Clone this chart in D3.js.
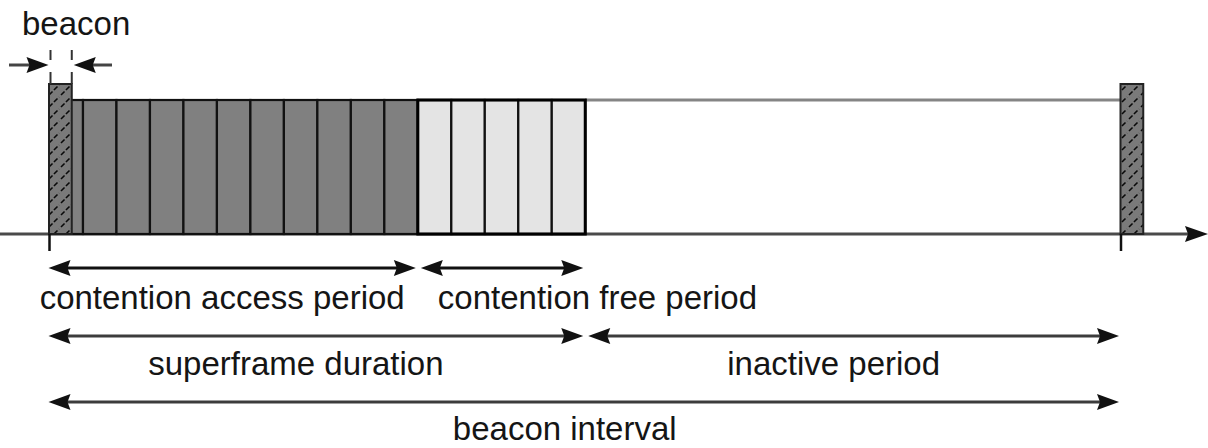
<!DOCTYPE html>
<html>
<head>
<meta charset="utf-8">
<script src="https://cdn.jsdelivr.net/npm/d3@7"></script>
<style>
  body { margin: 0; background: #fff; }
  svg { display: block; }
  text { font-family: "Liberation Sans", Arial, sans-serif; font-size: 33px; fill: #151515; }
</style>
</head>
<body>
<script>
// superframe layout, in slot units
var superframeSlots = 16;
var capSlots = 11;
var cfpSlots = 5;
var beaconIntervalSlots = 32;
var beaconSlots = 0.68;

// the periods marked with arrows under the axis
var periodNames = ["contention access period", "contention free period", "superframe duration", "inactive period", "beacon interval"];
var periodStart = [0, 11, 0, 16, 0];
var periodEnd = [11, 16, 16, 32, 32];
var periodRow = [0, 0, 1, 1, 2];

var beaconLabel = "beacon";

_main = function () {
  var W = 1208, H = 448;
  var svg = d3.select("body").append("svg")
              .attr("width", W)
              .attr("height", H);

  var x = d3.scaleLinear().domain([0, beaconIntervalSlots]).range([49.5, 1121]);
  var y = d3.scaleLinear().domain([0, 1]).range([234, 100]);   // slot height
  var yBeaconTop = 84;

  var rowY = [268, 336, 402];
  var rowText = [309, 375, 440];

  // hatch for beacons
  var defs = svg.append("defs");
  var pat = defs.append("pattern")
                .attr("id", "hatch")
                .attr("patternUnits", "userSpaceOnUse")
                .attr("width", 12).attr("height", 12);
  pat.append("rect").attr("width", 12).attr("height", 12).attr("fill", "#7a7a7a");
  pat.append("path")
     .attr("d", "M1,11 L11,1")
     .attr("stroke", "#0a0a0a").attr("stroke-width", 1.6)
     .attr("stroke-dasharray", "5,2");

  var g = svg.append("g");

  // inactive period top line
  g.append("line")
   .attr("x1", x(superframeSlots)).attr("x2", x(beaconIntervalSlots))
   .attr("y1", y(1)).attr("y2", y(1))
   .attr("stroke", "#858585").attr("stroke-width", 3);

  // axis
  g.append("line")
   .attr("x1", 0).attr("x2", 1190)
   .attr("y1", y(0)).attr("y2", y(0))
   .attr("stroke", "#4a4a4a").attr("stroke-width", 3);
  g.append("path")
   .attr("d", "M1208," + y(0) + " L1185," + (y(0) - 8) + " L1188," + y(0) + " L1185," + (y(0) + 8) + " Z")
   .attr("fill", "#111");

  // slots
  var slots = d3.range(superframeSlots);
  g.selectAll("rect.slot")
   .data(slots)
   .enter().append("rect")
   .attr("class", "slot")
   .attr("x", function (d) { return x(d); })
   .attr("width", function (d) { return x(d + 1) - x(d); })
   .attr("y", y(1))
   .attr("height", y(0) - y(1))
   .attr("fill", function (d) { return d < capSlots ? "#808080" : "#e4e4e4"; })
   .attr("stroke", "#111")
   .attr("stroke-width", 2.2);

  // outer border of CFP
  g.append("rect")
   .attr("x", x(capSlots)).attr("y", y(1))
   .attr("width", x(capSlots + cfpSlots) - x(capSlots))
   .attr("height", y(0) - y(1))
   .attr("fill", "none").attr("stroke", "#000").attr("stroke-width", 3);

  // beacons
  var beacons = [0, beaconIntervalSlots];
  g.selectAll("rect.beacon")
   .data(beacons)
   .enter().append("rect")
   .attr("class", "beacon")
   .attr("x", function (d) { return x(d) - 0.5; })
   .attr("width", x(beaconSlots) - x(0))
   .attr("y", yBeaconTop)
   .attr("height", y(0) - yBeaconTop)
   .attr("fill", "url(#hatch)")
   .attr("stroke", "#222")
   .attr("stroke-width", 2);

  // ticks under the axis at beacon starts
  g.selectAll("line.tick")
   .data(beacons)
   .enter().append("line")
   .attr("class", "tick")
   .attr("x1", function (d) { return x(d); })
   .attr("x2", function (d) { return x(d); })
   .attr("y1", y(0)).attr("y2", y(0) + 17)
   .attr("stroke", "#111").attr("stroke-width", 2.5);

  // arrow helper
  function arrowHead(sel, tip, yy, dir, color) {
    var L = 22, h = 8;
    sel.append("path")
       .attr("d", "M" + tip + "," + yy +
                  " L" + (tip - dir * L) + "," + (yy - h) +
                  " L" + (tip - dir * (L - 3)) + "," + yy +
                  " L" + (tip - dir * L) + "," + (yy + h) + " Z")
       .attr("fill", color);
  }

  // beacon width marker
  var bx0 = x(0) + 1, bx1 = x(beaconSlots) - 0.5, by = 65;
  [bx0, bx1].forEach(function (bx) {
    g.append("line").attr("x1", bx).attr("x2", bx).attr("y1", 50).attr("y2", 60)
     .attr("stroke", "#333").attr("stroke-width", 2);
    g.append("line").attr("x1", bx).attr("x2", bx).attr("y1", 72).attr("y2", yBeaconTop)
     .attr("stroke", "#333").attr("stroke-width", 2);
  });
  g.append("line").attr("x1", 9).attr("x2", bx0 - 10).attr("y1", by).attr("y2", by)
   .attr("stroke", "#444").attr("stroke-width", 3);
  arrowHead(g, bx0 - 2, by, 1, "#111");
  g.append("line").attr("x1", bx1 + 10).attr("x2", 112).attr("y1", by).attr("y2", by)
   .attr("stroke", "#444").attr("stroke-width", 3);
  arrowHead(g, bx1 + 2, by, -1, "#111");

  g.append("text")
   .attr("x", 22).attr("y", 35)
   .text(beaconLabel);

  // period arrows and labels
  var labelDx = [-10, 17, -20, -20, -19];
  var rowColor = ["#111", "#3c3c3c", "#3c3c3c"];
  periodNames.forEach(function (name, i) {
    var r = periodRow[i];
    var x1 = x(periodStart[i]) + (periodStart[i] === 0 ? -1 : 3);
    var x2 = x(periodEnd[i]) - 2;
    var yy = rowY[r];
    g.append("line")
     .attr("x1", x1 + 10).attr("x2", x2 - 10)
     .attr("y1", yy).attr("y2", yy)
     .attr("stroke", rowColor[r]).attr("stroke-width", 3);
    arrowHead(g, x1, yy, -1, "#111");
    arrowHead(g, x2, yy, 1, "#111");

    var isStart = i === 1;
    g.append("text")
     .attr("x", isStart ? x1 + labelDx[i] : (x1 + x2) / 2 + labelDx[i])
     .attr("y", rowText[r])
     .attr("text-anchor", isStart ? "start" : "middle")
     .text(name);
  });
};

document.addEventListener("DOMContentLoaded", function () {
  _main();
});
</script>
</body>
</html>
